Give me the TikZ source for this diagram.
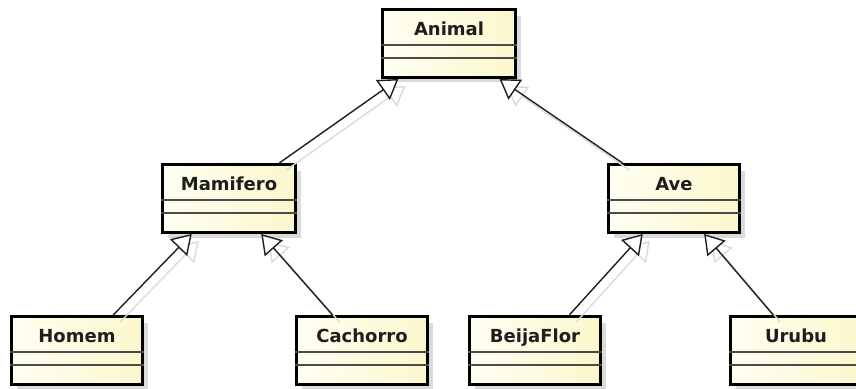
\documentclass[tikz,border=0pt]{standalone}
\usepackage{fontspec}
\setmainfont{DejaVu Sans}
\usetikzlibrary{calc,arrows.meta}
\definecolor{clsL}{HTML}{FFFFF2}
\definecolor{clsR}{HTML}{FBF7CC}
\definecolor{shad}{HTML}{DADADA}
\definecolor{ink}{HTML}{1E1E1E}
\tikzset{
  cls/.style={draw=black, line width=3pt, left color=clsL, right color=clsR,
    minimum width=131pt, minimum height=68pt, anchor=north west, inner sep=0pt},
  clstitle/.style={font=\fontsize{18}{21}\selectfont\bfseries, text=ink, anchor=base, inner sep=0pt},
  divider/.style={draw=ink!80, line width=1.4pt},
  boxshadow/.style={fill=shad},
  gen/.style={draw=ink, line width=1.4pt, -{Triangle[length=19pt,width=24pt,fill=white,line width=1.4pt]}},
  genshadow/.style={draw=shad, line width=1.4pt, -{Triangle[length=19pt,width=24pt,fill=white,line width=1.4pt]},
    transform canvas={shift={(7pt,-7pt)}}},
}
\newcommand\umlclass[5]{% name, x, y, width, title
  \node[cls, minimum width=#4pt] (#1) at (#2,#3) {};
  \node[clstitle] (#1t) at ($(#1.north)+(0,27)$) {#5};
  \draw[divider] ($(#1.north west)+(0,37)$) -- ($(#1.north east)+(0,37)$);
  \draw[divider] ($(#1.north west)+(0,50)$) -- ($(#1.north east)+(0,50)$);
}
\begin{document}
\begin{tikzpicture}[x=1pt,y=-1pt]
\useasboundingbox (0,0) rectangle (856,388);
\clip (0,0) rectangle (856,388);
% box shadows
\foreach \x/\y/\w/\h in {381/8/133/68, 161/163/133/69, 607/163/131/69, 10/315/131/69, 295/315/131/69, 468/315/131/69, 729/315/131/69}
  \fill[boxshadow] (\x+7,\y+8) rectangle (\x+\w+7,\y+\h+6);
% classes
\umlclass{animal}{381}{8}{133}{Animal}
\umlclass{mamifero}{161}{163}{133}{Mamifero}
\umlclass{ave}{607}{163}{131}{Ave}
\umlclass{homem}{10}{315}{131}{Homem}
\umlclass{cachorro}{295}{315}{131}{Cachorro}
\umlclass{beijaflor}{468}{315}{131}{BeijaFlor}
\umlclass{urubu}{729}{315}{131}{Urubu}
% generalizations (shadow first, then line)
\foreach \st in {genshadow, gen} {
  \draw[\st] ($(homem.north west)!0.77!(homem.north east)$) -- ($(mamifero.south west)!0.226!(mamifero.south east)$);
  \draw[\st] ($(cachorro.north west)!0.28!(cachorro.north east)$) -- ($(mamifero.south west)!0.737!(mamifero.south east)$);
  \draw[\st] ($(mamifero.north west)!0.87!(mamifero.north east)$) -- ($(animal.south west)!0.128!(animal.south east)$);
  \draw[\st] ($(ave.north west)!0.115!(ave.north east)$) -- ($(animal.south west)!0.872!(animal.south east)$);
  \draw[\st] ($(beijaflor.north west)!0.756!(beijaflor.north east)$) -- ($(ave.south west)!0.267!(ave.south east)$);
  \draw[\st] ($(urubu.north west)!0.33!(urubu.north east)$) -- ($(ave.south west)!0.725!(ave.south east)$);
}
\end{tikzpicture}
\end{document}
